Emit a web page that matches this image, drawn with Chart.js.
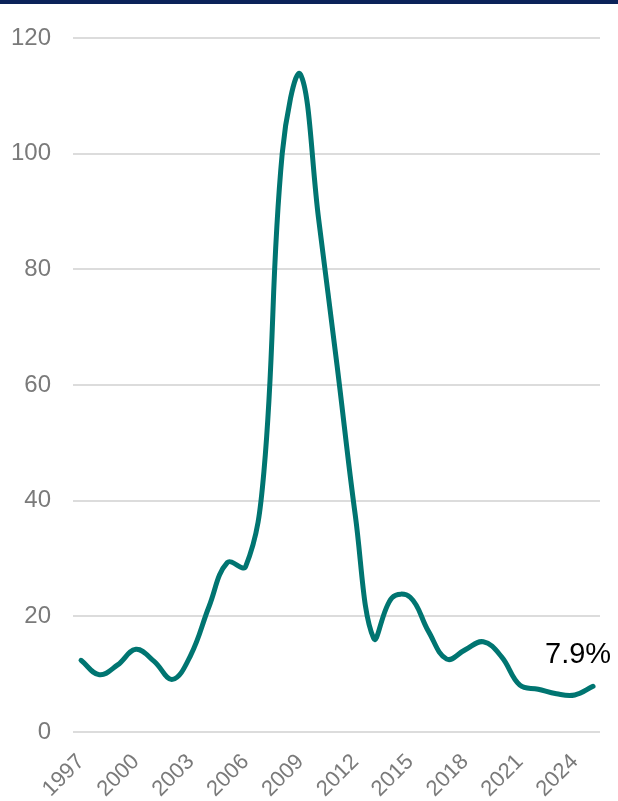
<!DOCTYPE html>
<html>
<head>
<meta charset="utf-8">
<script src="https://cdn.jsdelivr.net/npm/chart.js@4.4.1/dist/chart.umd.min.js"></script>
<style>
  html, body { margin: 0; padding: 0; background: #ffffff; }
  #wrap { position: absolute; left: 0; top: 0; width: 618px; height: 801px; }
  #topbar { position: absolute; left: 0; top: 0; width: 618px; height: 4px; background: #0b2259; }
</style>
</head>
<body>
<div id="wrap"><canvas id="chart"></canvas></div>
<div id="topbar"></div>
<script>
// Annual rate, 1997-2025
const years = [1997, 1998, 1999, 2000, 2001, 2002, 2003, 2004, 2005, 2006,
               2007, 2008, 2009, 2010, 2011, 2012, 2013, 2014, 2015, 2016,
               2017, 2018, 2019, 2020, 2021, 2022, 2023, 2024, 2025];
const rates = [12.4, 9.9, 11.6, 14.3, 12.2, 9.1, 13.3, 21.7, 29.3, 28.6,
               45.0, 100.0, 113.7, 88.5, 63.4, 37.4, 16.2, 23.2, 23.3, 17.4,
               12.6, 14.2, 15.6, 13.0, 8.1, 7.4, 6.6, 6.4, 7.9];
const xTickYears = [1997, 2000, 2003, 2006, 2009, 2012, 2015, 2018, 2021, 2024];
const yTickValues = [0, 20, 40, 60, 80, 100, 120];
const latestLabel = '7.9%';

const FONT = '"Liberation Sans", Arial, Helvetica, sans-serif';
const TEAL = '#007571';

// Writes the latest value just above the end of the line
const endLabel = {
  id: 'endLabel',
  afterDatasetsDraw(chart) {
    const meta = chart.getDatasetMeta(0);
    const last = meta.data[meta.data.length - 1];
    const ctx = chart.ctx;
    ctx.save();
    ctx.font = '29px ' + FONT;
    ctx.fillStyle = '#000000';
    ctx.textAlign = 'center';
    ctx.textBaseline = 'alphabetic';
    ctx.fillText(latestLabel, last.x - 15, last.y - 23);
    ctx.restore();
  }
};

new Chart(document.getElementById('chart'), {
  type: 'line',
  data: {
    datasets: [{
      data: years.map((y, i) => ({ x: y, y: rates[i] })),
      borderColor: TEAL,
      borderWidth: 5,
      borderCapStyle: 'round',
      borderJoinStyle: 'round',
      pointRadius: 0,
      pointHoverRadius: 0,
      tension: 0.4,
      fill: false
    }]
  },
  options: {
    responsive: true,
    maintainAspectRatio: false,
    animation: false,
    events: [],
    layout: { padding: { top: 38, right: 18, bottom: 0, left: 0 } },
    plugins: {
      legend: { display: false },
      tooltip: { enabled: false }
    },
    scales: {
      x: {
        type: 'linear',
        min: 1996.56,
        max: 2025.38,
        afterBuildTicks: (scale) => { scale.ticks = xTickYears.map(v => ({ value: v })); },
        afterFit: (scale) => { scale.height = 69; },
        grid: { display: false, drawTicks: false },
        border: { display: false },
        ticks: {
          autoSkip: false,
          maxRotation: 45,
          minRotation: 45,
          padding: 17,
          color: '#7a7a7a',
          font: { family: FONT, size: 22 },
          callback: (v) => String(v)
        }
      },
      y: {
        min: 0,
        max: 120,
        afterBuildTicks: (scale) => { scale.ticks = yTickValues.map(v => ({ value: v })); },
        afterFit: (scale) => { scale.width = 73; },
        grid: { color: '#dcdcdc', lineWidth: 2, drawTicks: false },
        border: { display: false },
        ticks: {
          padding: 22,
          color: '#7a7a7a',
          font: { family: FONT, size: 24 },
          callback: (v) => String(v)
        }
      }
    }
  },
  plugins: [endLabel]
});
</script>
</body>
</html>
